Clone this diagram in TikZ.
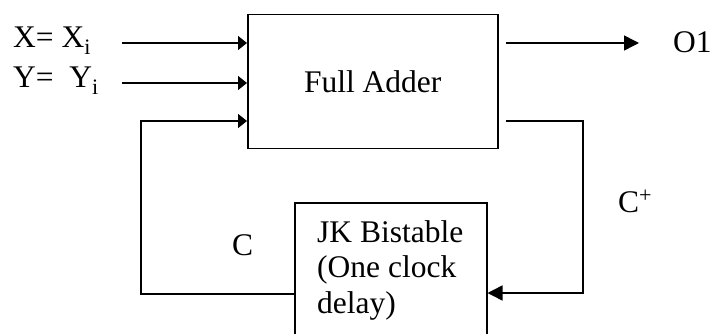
\documentclass[tikz,border=0pt]{standalone}
\usepackage{fontspec}
\setmainfont{Liberation Serif}
\usetikzlibrary{arrows.meta,calc}

\tikzset{
  blk/.style={draw=black, line width=1.5pt, rectangle, inner sep=0pt},
  wire/.style={draw=black, line width=1.5pt},
  inarrow/.style={wire, -{Triangle[length=9pt,width=14pt]}},
  outarrow/.style={wire, -{Triangle[length=15pt,width=15pt]}},
  lbl/.style={font=\fontsize{31.5}{35.5}\selectfont, inner sep=0pt}
}

\begin{document}
\begin{tikzpicture}[x=1pt, y=-1pt]
  \useasboundingbox (0,0) rectangle (712,334);
  \clip (0,0) rectangle (712,334);

  % blocks
  \node[blk, lbl, minimum width=250pt, minimum height=134pt, anchor=north west]
    (fa) at (247,14) {Full Adder};
  \node[blk, minimum width=192pt, minimum height=160pt, anchor=north west]
    (jk) at (294,202) {};
  % three-line caption; the base anchor sits on the last line
  \node[lbl, anchor=base west, align=left] (jktext) at (317,313)
    {JK Bistable\\(One clock\\delay)};

  % signal labels
  \node[lbl, anchor=base west] (xl) at (13,48) {X= X\textsubscript{i}};
  \node[lbl, anchor=base west] (yl) at (13,88) {Y=\ \ Y\textsubscript{i}};
  \node[lbl, anchor=base west] (ol) at (673,53) {O1};
  \node[lbl, anchor=base west] (cpl) at (618,212) {C\textsuperscript{+}};
  \node[lbl, anchor=base west] (cl) at (232,255) {C};

  % wire end points
  \coordinate (xs) at (122,43);
  \coordinate (ys) at (122,83);
  \coordinate (os) at (506,43);
  \coordinate (oe) at (639,43);
  \coordinate (cs) at (506,121);
  \coordinate (cr) at (583,121);
  \coordinate (jkin) at (486,293);
  \coordinate (jkout) at (294,294);
  \coordinate (cleft) at (141,121);

  % inputs
  \draw[inarrow] (xs) -- (xs -| fa.west);
  \draw[inarrow] (ys) -- (ys -| fa.west);
  % sum output
  \draw[outarrow] (os) -- (oe);
  % carry out to the bistable
  \draw[outarrow] (cs) -- (cr) |- (jkin -| jk.east);
  % delayed carry back into the adder
  \draw[inarrow] (jkout -| jk.west) -| (cleft) -- (cleft -| fa.west);
\end{tikzpicture}
\end{document}
